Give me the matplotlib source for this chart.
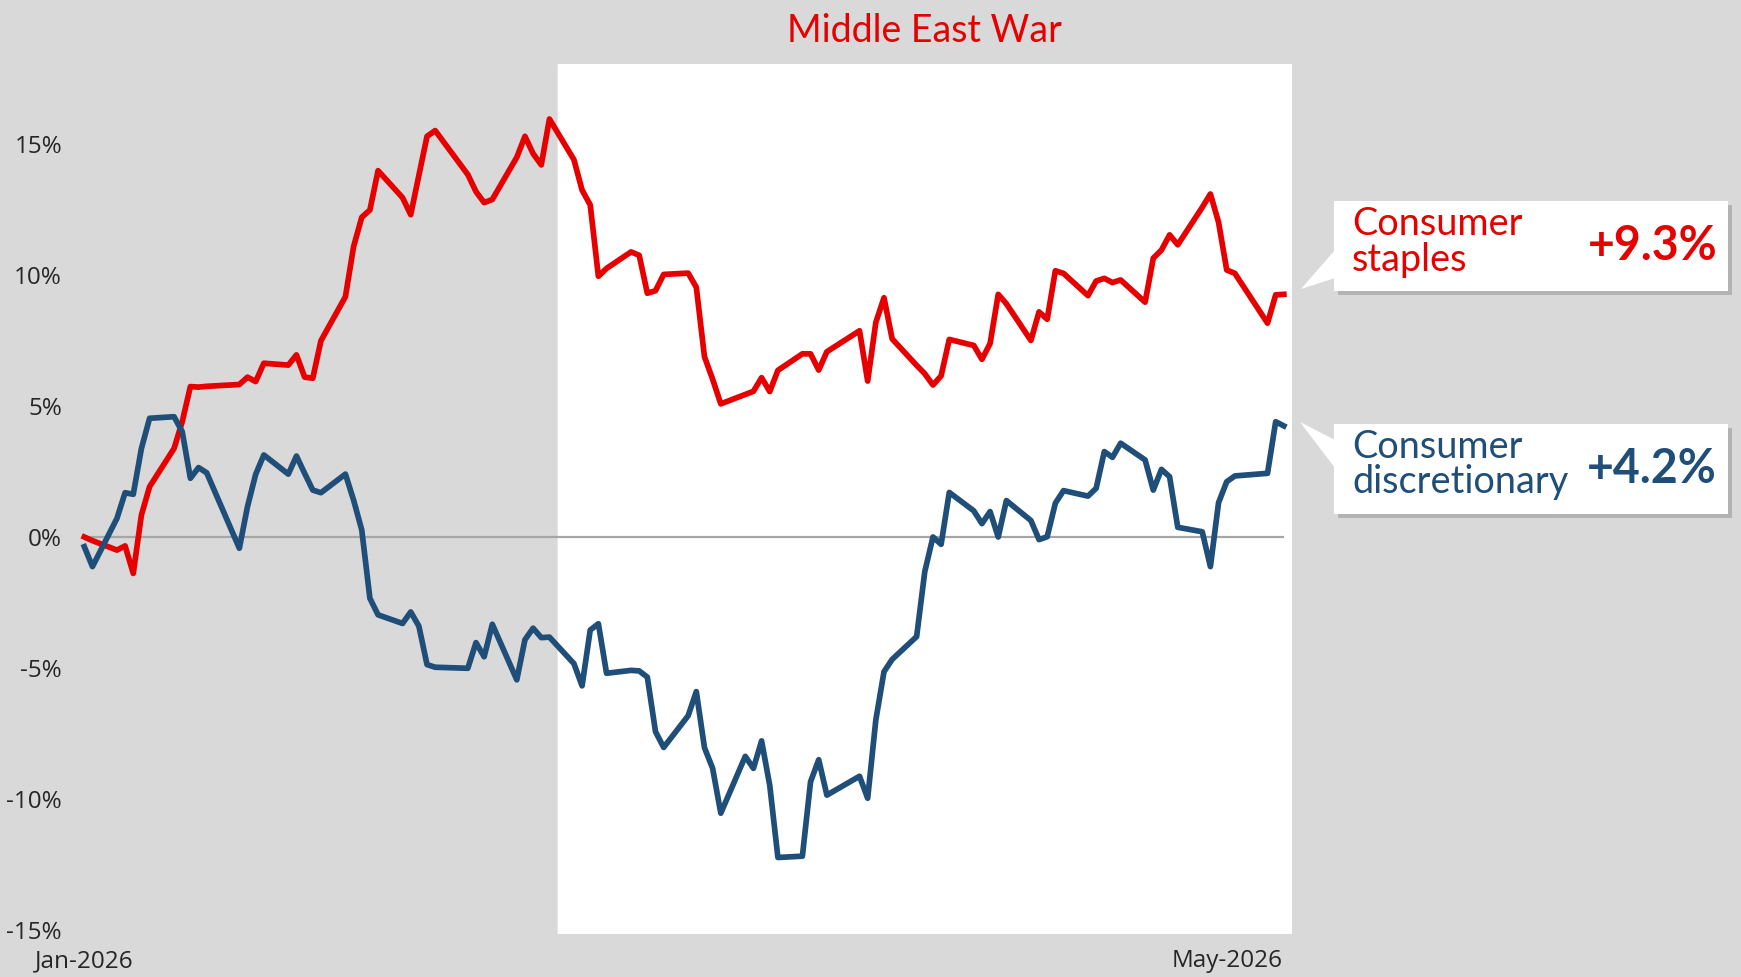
import pandas as pd
import matplotlib.pyplot as plt
import matplotlib.patheffects as pe
from matplotlib.patches import Rectangle, Polygon

# trading days Jan 1 - May 28 2026 (US market holidays removed)
holidays = ["2026-01-19", "2026-02-16", "2026-04-03", "2026-05-25"]
dates = pd.bdate_range("2026-01-01", "2026-05-28")
dates = dates[~dates.isin(pd.to_datetime(holidays))]

# cumulative return since start, % (one row per week)
staples = [
    0.0, -0.14,
    -0.50, -0.34, -1.39, 0.84, 1.92,
    3.38, 4.40, 5.74, 5.72, 5.75,
    5.82, 6.10, 5.93, 6.63,
    6.56, 6.95, 6.10, 6.06, 7.49,
    9.17, 11.08, 12.20, 12.48, 13.98,
    12.95, 12.30, 13.80, 15.29, 15.51,
    13.83, 13.18, 12.76, 12.88,
    14.49, 15.29, 14.63, 14.20, 15.95,
    14.40, 13.24, 12.67, 9.95, 10.25,
    10.88, 10.75, 9.30, 9.40, 10.02,
    10.07, 9.53, 6.88, 6.02, 5.08,
    5.44, 5.56, 6.08, 5.55, 6.36,
    6.99, 6.99, 6.37, 7.07,
    7.87, 5.95, 8.19, 9.13, 7.56,
    6.55, 6.23, 5.80, 6.15, 7.54,
    7.31, 6.78, 7.38, 9.26, 8.90,
    7.50, 8.59, 8.31, 10.16, 10.06,
    9.21, 9.77, 9.87, 9.71, 9.81,
    8.96, 10.64, 10.95, 11.53, 11.15,
    12.58, 13.09, 12.01, 10.19, 10.06,
    8.16, 9.24, 9.26,
]
discretionary = [
    -0.37, -1.13,
    0.71, 1.69, 1.63, 3.38, 4.53,
    4.59, 4.02, 2.24, 2.65, 2.45,
    -0.43, 1.16, 2.39, 3.13,
    2.40, 3.09, 2.43, 1.79, 1.69,
    2.40, 1.41, 0.27, -2.34, -2.97,
    -3.30, -2.86, -3.40, -4.87, -4.97,
    -5.01, -4.03, -4.57, -3.33,
    -5.45, -3.92, -3.48, -3.84, -3.82,
    -4.83, -5.68, -3.55, -3.31, -5.20,
    -5.09, -5.11, -5.35, -7.43, -8.03,
    -6.82, -5.90, -8.04, -8.83, -10.54,
    -8.37, -8.83, -7.78, -9.48, -12.23,
    -12.18, -9.34, -8.50, -9.85,
    -9.13, -9.97, -6.98, -5.14, -4.67,
    -3.80, -1.32, 0.0, -0.28, 1.70,
    1.00, 0.51, 0.97, 0.0, 1.39,
    0.63, -0.10, 0.01, 1.29, 1.77,
    1.56, 1.86, 3.26, 3.04, 3.58,
    2.94, 1.79, 2.58, 2.30, 0.37,
    0.20, -1.13, 1.31, 2.11, 2.33,
    2.43, 4.40, 4.24,
]
war_start = pd.Timestamp("2026-02-28")
tick_dates = [dates[0], pd.Timestamp("2026-05-21")]
tick_labels = ["Jan-2026", "May-2026"]
y_ticks = [-15, -10, -5, 0, 5, 10, 15]

RED = "#E60000"
BLUE = "#1F4E79"
BG = "#D9D9D9"
W, H = 1741, 977

fig = plt.figure(figsize=(W / 100, H / 100), dpi=100, facecolor=BG)
ax = fig.add_axes([84.3 / W, 43 / H, (1292 - 84.3) / W, 870 / H])
ax.set_facecolor("none")

shadow = [pe.withSimplePatchShadow(offset=(3, -3), shadow_rgbFace="#9a9a9a", alpha=0.6), pe.Normal()]

x_end = dates[-1] + pd.Timedelta(days=1)
ax.axvspan(war_start, x_end, color="white", zorder=0, path_effects=shadow)
ax.hlines(0, dates[0], dates[-1], color="#A6A6A6", lw=1.6, zorder=1)

ax.plot(dates, staples, color=RED, lw=4.1, solid_joinstyle="round", clip_on=False, zorder=3)
ax.plot(dates, discretionary, color=BLUE, lw=4.1, solid_joinstyle="round", clip_on=False, zorder=3)

ax.set_xlim(dates[0], x_end)
ax.set_ylim(-15.15, 18.05)
for s in ax.spines.values():
    s.set_visible(False)

ax.set_yticks(y_ticks)
ax.set_yticklabels([f"{v}%" for v in y_ticks], fontsize=17.5, color="#262626", family="Open Sans")
ax.tick_params(axis="y", length=0, pad=16)
ax.set_xticks(tick_dates)
ax.set_xticklabels(tick_labels, fontsize=17.5, color="#262626", family="Open Sans")
ax.tick_params(axis="x", length=0, pad=11)

fig.text(924 / W, 1 - 31 / H, "Middle East War", color=RED, fontsize=27,
         family="Lato", ha="center", va="center")


def px(x, y):
    return (x / W, 1 - y / H)


def label_box(top, bottom, tail, lines, value, color):
    x0, x1 = 1334, 1728
    fig.add_artist(Rectangle(px(x0, bottom), (x1 - x0) / W, (bottom - top) / H,
                             transform=fig.transFigure, facecolor="white",
                             edgecolor="none", path_effects=shadow, zorder=2))
    fig.add_artist(Polygon([px(*tail[0]), px(*tail[1]), px(*tail[2])],
                           transform=fig.transFigure, facecolor="white",
                           edgecolor="none", zorder=3))
    for txt, yc in lines:
        fig.text(*px(1352, yc), txt, color=color, fontsize=27.3, family="Lato",
                 ha="left", va="center", zorder=4)
    fig.text(*px(1717, (top + bottom) / 2), value, color=color, fontsize=33.5,
             family="Lato", weight="bold", ha="right", va="center", zorder=4)


label_box(201, 291, [(1301, 289), (1335, 250), (1335, 278)],
          [("Consumer", 224), ("staples", 260)], f"+{staples[-1]:.1f}%", RED)
label_box(424, 514, [(1300, 422), (1335, 440), (1335, 468)],
          [("Consumer", 447), ("discretionary", 482)], f"+{discretionary[-1]:.1f}%", BLUE)

fig.savefig("out.png", dpi=100, facecolor=BG)
